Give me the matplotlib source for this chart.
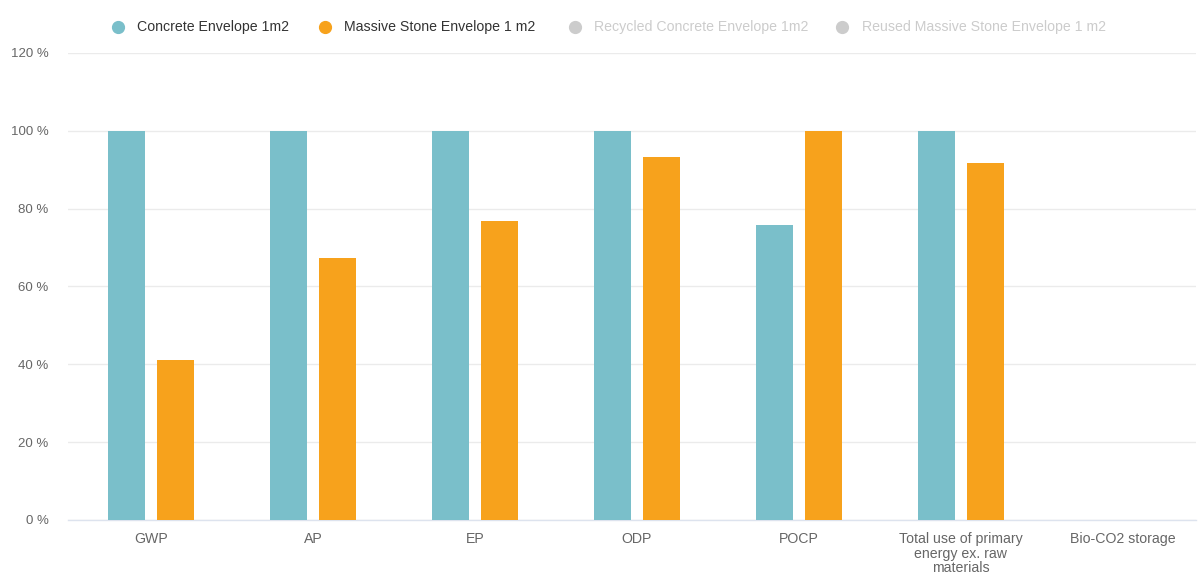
import matplotlib
matplotlib.use("Agg")
import matplotlib.pyplot as plt
from matplotlib.lines import Line2D
import numpy as np

plt.rcParams['font.family'] = ['Liberation Sans', 'DejaVu Sans']

# Indicator categories (x axis)
categories = ["GWP", "AP", "EP", "ODP", "POCP",
              "Total use of primary\nenergy ex. raw\nmaterials",
              "Bio-CO2 storage"]

# Relative results in percent
concrete_envelope = [100, 100, 100, 100, 75.7, 100, 0]
massive_stone_envelope = [41, 67.3, 76.7, 93.2, 100, 91.6, 0]

series_labels = ["Concrete Envelope 1m2", "Massive Stone Envelope 1 m2",
                 "Recycled Concrete Envelope 1m2", "Reused Massive Stone Envelope 1 m2"]
series_colors = ["#7abfca", "#f7a21c", "#cccccc", "#cccccc"]
series_visible = [True, True, False, False]

y_ticks = [0, 20, 40, 60, 80, 100, 120]

fig = plt.figure(figsize=(12, 5.77), dpi=100)
ax = fig.add_axes([0.0567, 0.0988, 0.940, 0.8094])

x = np.arange(len(categories))
bar_w = 0.229
offset = 0.151
ax.bar(x - offset, concrete_envelope, width=bar_w, color=series_colors[0], zorder=3)
ax.bar(x + offset, massive_stone_envelope, width=bar_w, color=series_colors[1], zorder=3)

ax.set_xlim(-0.512, 6.451)
ax.set_ylim(0, 120)
ax.set_yticks(y_ticks)
ax.set_yticklabels([f"{v} %" for v in y_ticks])
ax.set_xticks(x)
ax.set_xticklabels(categories, linespacing=1.02)

ax.grid(axis='y', color='#ebebeb', linewidth=1, zorder=0)
for s in ['top', 'right', 'left']:
    ax.spines[s].set_visible(False)
ax.spines['bottom'].set_color('#dde3ee')
ax.spines['bottom'].set_linewidth(1)
ax.tick_params(axis='both', length=0, colors='#666666')
ax.tick_params(axis='y', pad=14, labelsize=9.5)
ax.tick_params(axis='x', pad=9, labelsize=10.2)

# Legend across the top
legend_x = [0.0985, 0.271, 0.479, 0.702]
legend_y = 0.953
for lx, label, color, vis in zip(legend_x, series_labels, series_colors, series_visible):
    fig.add_artist(Line2D([lx], [legend_y], marker='o', markersize=8.5,
                          color=color, linestyle='none', transform=fig.transFigure))
    fig.text(lx + 0.016, legend_y, label, va='center', ha='left', fontsize=10.2,
             color='#333333' if vis else '#cccccc')

fig.savefig("out.png", dpi=100, facecolor='white')
